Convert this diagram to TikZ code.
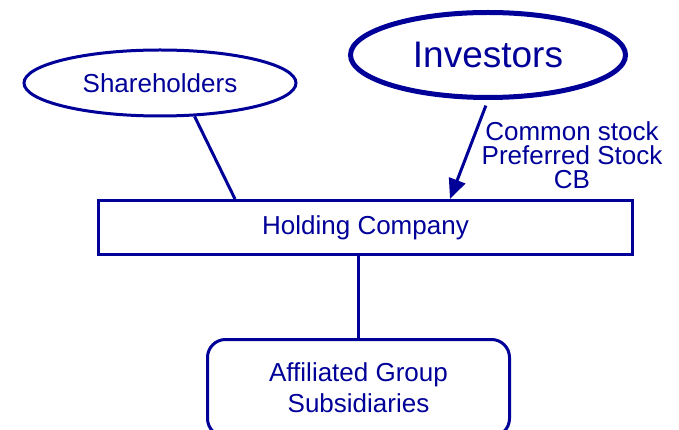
\documentclass[tikz,border=0pt]{standalone}
\usepackage{fontspec}
\setmainfont{Liberation Sans}
\usetikzlibrary{shapes.geometric,arrows.meta,calc}
\definecolor{navy}{RGB}{0,0,153}
\begin{document}
\begin{tikzpicture}[x=1pt,y=-1pt,line width=3pt,navy,
  every node/.style={text=navy,font=\fontsize{26}{31}\selectfont},
  party/.style={draw,ellipse,inner sep=0pt},
  box/.style={draw,rectangle,inner sep=0pt}]
  \clip (0,0) rectangle (679,430);
  \node[party,minimum width=272pt,minimum height=66pt] (share) at (160,83) {Shareholders};
  \node[party,line width=5pt,minimum width=275pt,minimum height=85pt,font=\fontsize{37}{44}\selectfont] (inv) at (488,55) {Investors};
  \node[box,minimum width=534pt,minimum height=54pt] (hold) at (365.5,227.5) {Holding Company};
  \node[box,rounded corners=18pt,minimum width=302pt,minimum height=97pt,align=center] (aff) at (358.5,388) {Affiliated Group\\Subsidiaries};
  \node[align=center,font=\fontsize{26}{24}\selectfont] (sec) at (572,155) {Common stock\\Preferred Stock\\CB};
  % links
  \draw (share.-44) -- ($(hold.north west)+(138,0)$);
  \draw[-{Triangle[length=20pt,width=17pt]},shorten <=6pt] (inv.south) -- ($(hold.north)+(84.5,0)$);
  \draw (hold.south -| aff.north) -- (aff.north);
\end{tikzpicture}
\end{document}
